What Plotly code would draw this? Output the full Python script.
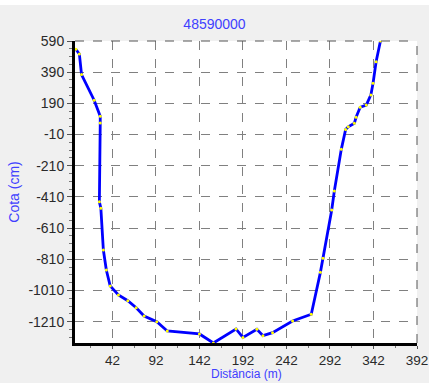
import plotly.graph_objects as go

dist = [0, 4, 6.5, 21, 28, 28, 27, 28.7, 31.6, 35, 39.4, 48.9, 59.7, 69.3, 78.4, 93, 105, 142, 158,
        184, 192, 208, 215, 226, 249, 270.5, 281, 284, 294, 297, 305, 310, 313, 320, 322,
        326.7, 333.7, 339, 341.5, 345, 350]
cota = [537, 507, 375, 210, 107, 64, -441, -483, -751, -879, -981, -1039, -1076, -1121, -1174, -1210,
        -1270, -1289, -1347, -1257, -1311, -1259, -1300, -1281, -1206, -1163, -894, -804, -494,
        -372, -105, 23, 40, 62, 101, 165, 179, 244, 319, 457, 590]

x_ticks = [42, 92, 142, 192, 242, 292, 342, 392]
y_ticks = [590, 390, 190, -10, -210, -410, -610, -810, -1010, -1210]

fig = go.Figure()
fig.add_trace(go.Scatter(
    x=dist, y=cota, mode="lines+markers",
    line=dict(color="#0000ff", width=2.8),
    marker=dict(color="#ffff00", size=3, line=dict(width=0)),
    showlegend=False, hoverinfo="skip",
))

FAM = "Liberation Sans, Arial, sans-serif"
font = dict(family=FAM, size=14, color="#2a2a2a")
title_color = "#4040ff"
PLOT_H = 383 - 41 - 40

fig.update_layout(
    width=429, height=383,
    paper_bgcolor="#f0f0f0", plot_bgcolor="#ffffff",
    margin=dict(l=75, r=12, t=41, b=40),
    font=font,
    title=dict(text="48590000", x=0.5, xanchor="center", y=1 - 24 / 383, yanchor="middle",
               font=dict(family=FAM, size=14, color=title_color)),
    xaxis=dict(
        range=[-1, 392], tickvals=x_ticks, ticktext=[str(v) for v in x_ticks],
        automargin=False, tickfont=dict(family=FAM, size=13.5, color="#2a2a2a"),
        showgrid=True, gridcolor="#808080", griddash="dash", gridwidth=1,
        showline=True, linecolor="#000000", linewidth=3,
        ticks="outside", ticklen=3, tickcolor="#555555", ticklabelstandoff=0,
        minor=dict(tickvals=[17, 67, 117, 167, 217, 267, 317, 367], ticks="outside",
                   ticklen=2, tickcolor="#777777", showgrid=False),
        zeroline=False,
    ),
    yaxis=dict(
        range=[-1347, 590], tickvals=y_ticks, ticktext=[str(v) for v in y_ticks],
        automargin=False,
        showgrid=True, gridcolor="#808080", griddash="dash", gridwidth=1,
        showline=True, linecolor="#000000", linewidth=3,
        ticks="outside", ticklen=5, tickcolor="#555555",
        minor=dict(tickvals=[v + d for v in y_ticks for d in (-50, -100, -150)], ticks="outside",
                   ticklen=3, tickcolor="#777777", showgrid=False),
        zeroline=False,
        title=dict(text="Cota (cm)", standoff=6,
                   font=dict(family=FAM, size=14, color=title_color)),
    ),
    annotations=[
        dict(text="Distância (m)", xref="paper", yref="paper", x=0.5, y=-(383 - 343) / PLOT_H,
             xanchor="center", yanchor="bottom", showarrow=False,
             font=dict(family=FAM, size=12, color=title_color)),
    ],
    shapes=[
        dict(type="rect", xref="paper", yref="paper", x0=-1, x1=2, y0=1 + 36 / PLOT_H,
             y1=1 + 45 / PLOT_H, fillcolor="#ffffff", line=dict(width=0), layer="below"),
        dict(type="line", xref="paper", yref="paper", x0=0, x1=1, y0=1, y1=1,
             line=dict(color="#555555", width=1, dash="dash")),
        dict(type="line", xref="paper", yref="paper", x0=1, x1=1, y0=0, y1=1,
             line=dict(color="#555555", width=1, dash="dash")),
    ],
)

fig.write_html("out.html", config={"displayModeBar": False},
               post_script="document.body.style.margin='0';document.body.style.overflow='hidden';")
